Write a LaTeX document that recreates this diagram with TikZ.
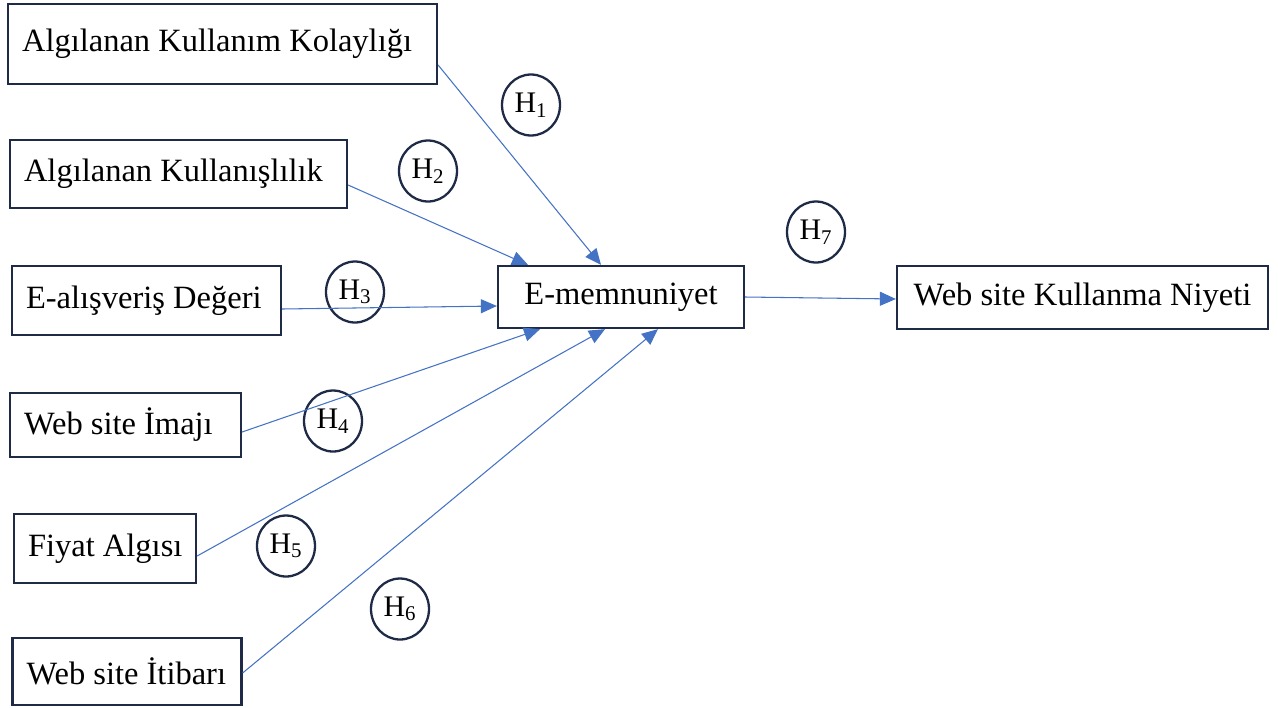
\documentclass[tikz,border=0pt]{standalone}
\usepackage{fontspec}
\setmainfont{Liberation Serif}
\usetikzlibrary{arrows.meta,shapes.geometric}
\definecolor{navy}{RGB}{30,42,70}
\definecolor{arrblue}{RGB}{68,114,196}
\newcommand{\lefttext}[2]{\makebox[#1][l]{#2}}
\begin{document}
\begin{tikzpicture}[x=0.02cm,y=-0.02cm,
  box/.style={draw=navy,line width=1.3pt,fill=white,inner sep=0pt,
    font=\fontsize{18.5}{22}\selectfont,text=black},
  lbox/.style={box,inner xsep=0.28cm},
  hyp/.style={draw=navy,line width=1.3pt,ellipse,inner sep=0pt,
    minimum width=1.16cm,minimum height=1.22cm,
    font=\fontsize{17}{20}\selectfont},
  arr/.style={draw=arrblue,line width=0.6pt,-{Triangle[length=0.32cm,width=0.28cm]}}]
\useasboundingbox (0,0) rectangle (1278,707);
% boxes
\node[lbox,minimum height=1.6cm] (b1) at (222.5,44) {\lefttext{8.02cm}{Algılanan Kullanım Kolaylığı}};
\node[lbox,minimum height=1.36cm] (b2) at (178.5,174) {\lefttext{6.18cm}{Algılanan Kullanışlılık}};
\node[lbox,minimum height=1.38cm] (b3) at (146.5,300.5) {\lefttext{4.82cm}{E-alışveriş Değeri}};
\node[lbox,minimum height=1.28cm] (b4) at (125.5,425) {\lefttext{4.06cm}{Web site İmajı}};
\node[lbox,minimum height=1.38cm] (b5) at (105,548.5) {\lefttext{3.08cm}{Fiyat Algısı}};
\node[lbox,minimum height=1.34cm] (b6) at (127,671.5) {\lefttext{4.02cm}{Web site İtibarı}};
\node[box,minimum width=4.92cm,minimum height=1.24cm] (em) at (621,297) {E-memnuniyet};
\node[box,minimum width=7.42cm,minimum height=1.26cm] (wk) at (1082.5,297.5) {Web site Kullanma Niyeti};
% hypotheses
\node[hyp] (h1) at (531,105) {H\textsubscript{1}};
\node[hyp] (h2) at (428,171) {H\textsubscript{2}};
\node[hyp] (h3) at (355,292) {H\textsubscript{3}};
\node[hyp] (h4) at (333,421) {H\textsubscript{4}};
\node[hyp] (h5) at (286,546) {H\textsubscript{5}};
\node[hyp] (h6) at (400,609) {H\textsubscript{6}};
\node[hyp] (h7) at (816,232) {H\textsubscript{7}};
% arrows
\draw[arr] (b1.east |- 0,65) -- (em.north -| 601,0);
\draw[arr] (b2.east |- 0,185) -- (em.north -| 528,0);
\draw[arr] (b3.east |- 0,309) -- (em.west |- 0,306);
\draw[arr] (b4.east |- 0,432) -- (em.south -| 540,0);
\draw[arr] (b5.east |- 0,556) -- (em.south -| 605,0);
\draw[arr] (b6.east |- 0,673) -- (em.south -| 658,0);
\draw[arr] (em.east |- 0,297) -- (wk.west |- 0,299);
\end{tikzpicture}
\end{document}
